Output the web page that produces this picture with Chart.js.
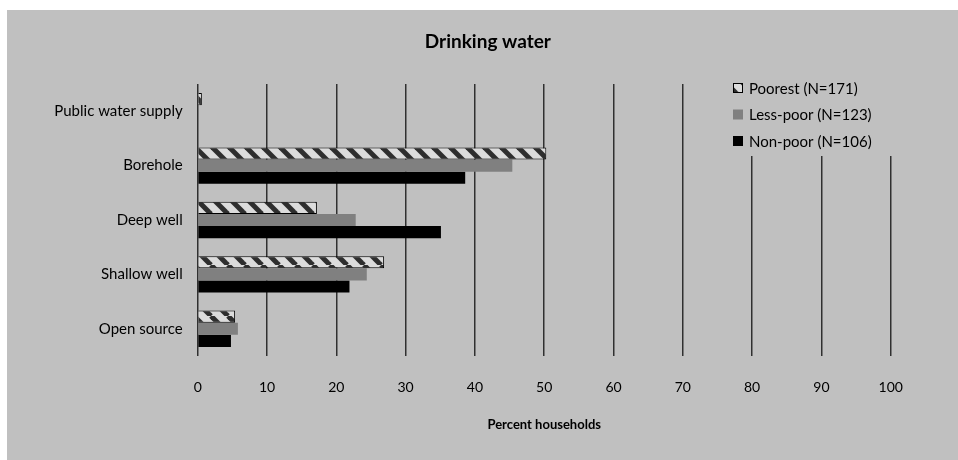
<!DOCTYPE html>
<html>
<head>
<meta charset="utf-8">
<script src="https://cdn.jsdelivr.net/npm/chart.js@4.4.1/dist/chart.umd.min.js"></script>
<style>
  html, body { margin: 0; padding: 0; background: #ffffff; }
  #wrap { position: absolute; left: 7px; top: 10px; width: 951px; height: 450px; background: #c0c0c0; }
</style>
</head>
<body>
<div id="wrap"><canvas id="chart"></canvas></div>
<script>
const categories = ['Public water supply', 'Borehole', 'Deep well', 'Shallow well', 'Open source'];
const seriesLabels = ['Poorest (N=171)', 'Less-poor (N=123)', 'Non-poor (N=106)'];
const poorest = [0.6, 50.3, 17.2, 26.9, 5.4];
const lessPoor = [0, 45.4, 22.8, 24.4, 5.8];
const nonPoor = [0, 38.6, 35.1, 21.9, 4.8];
const xMin = 0, xMax = 100, xStep = 10;

const FONT = 'Lato, "Open Sans", sans-serif';

// diagonal hatch used for the poorest series
function makeHatch() {
    const c = document.createElement('canvas');
    c.width = 17; c.height = 17;
    const g = c.getContext('2d');
    g.fillStyle = '#dcdcdc';
    g.fillRect(0, 0, 17, 17);
    g.strokeStyle = '#2e2e2e';
    g.lineWidth = 5;
    for (const o of [-17, 0, 17]) {
        g.beginPath();
        g.moveTo(o, 0);
        g.lineTo(o + 17, 17);
        g.stroke();
    }
    return g.createPattern(c, 'repeat');
}
const hatch = makeHatch();

// category labels are wider than the y scale box, so don't clip them
const noLabelClip = {
    id: 'noLabelClip',
    afterLayout(chart) {
        chart.scales.y._computeLabelArea = () => undefined;
    }
};

// legend sits inside the plot, on a grey box that hides the gridlines
const boxLegend = {
    id: 'boxLegend',
    afterDatasetsDraw(chart) {
        const ctx = chart.ctx;
        ctx.save();
        ctx.fillStyle = '#c0c0c0';
        ctx.fillRect(712, 64, 190, 82);
        ctx.font = '15px ' + FONT;
        ctx.textBaseline = 'middle';
        chart.data.datasets.forEach((ds, i) => {
            const y = 78 + i * 26.5;
            ctx.fillStyle = ds.backgroundColor;
            ctx.fillRect(726, y - 5, 10, 10);
            if (ds.borderWidth) {
                ctx.strokeStyle = '#000';
                ctx.lineWidth = 1;
                ctx.strokeRect(726.5, y - 4.5, 9, 9);
            }
            ctx.fillStyle = '#000';
            ctx.fillText(ds.label, 742, y + 1);
        });
        ctx.restore();
    }
};

new Chart(document.getElementById('chart'), {
    type: 'bar',
    data: {
        labels: categories,
        datasets: [
            { label: seriesLabels[0], data: poorest, backgroundColor: hatch, borderColor: '#000', borderWidth: 1 },
            { label: seriesLabels[1], data: lessPoor, backgroundColor: '#808080', borderWidth: 0 },
            { label: seriesLabels[2], data: nonPoor, backgroundColor: '#000000', borderWidth: 0 }
        ]
    },
    options: {
        indexAxis: 'y',
        responsive: true,
        maintainAspectRatio: false,
        animation: false,
        categoryPercentage: 0.67,
        barPercentage: 1.0,
        layout: { padding: { left: 78, right: 67.3, top: 0, bottom: 27 } },
        scales: {
            x: {
                min: xMin,
                max: xMax,
                ticks: {
                    stepSize: xStep,
                    color: '#000',
                    font: { family: FONT, size: 14 },
                    padding: 23
                },
                grid: { color: '#303030', lineWidth: 1.5, drawTicks: false },
                border: { display: false },
                title: {
                    display: true,
                    text: 'Percent households',
                    color: '#000',
                    font: { family: FONT, size: 13, weight: 'bold' },
                    padding: { top: 18, bottom: 0 }
                },
                afterFit(scale) { scale.height = 77; }
            },
            y: {
                ticks: {
                    color: '#000',
                    font: { family: FONT, size: 15 },
                    padding: 15
                },
                grid: { display: false, drawTicks: false },
                border: { display: false },
                afterFit(scale) { scale.width = 112.7; }
            }
        },
        plugins: {
            legend: { display: false },
            tooltip: { enabled: false },
            title: {
                display: true,
                text: 'Drinking water',
                color: '#000',
                font: { family: FONT, size: 19, weight: 'bold' },
                padding: { top: 20, bottom: 31.2 }
            }
        }
    },
    plugins: [noLabelClip, boxLegend]
});
</script>
</body>
</html>
